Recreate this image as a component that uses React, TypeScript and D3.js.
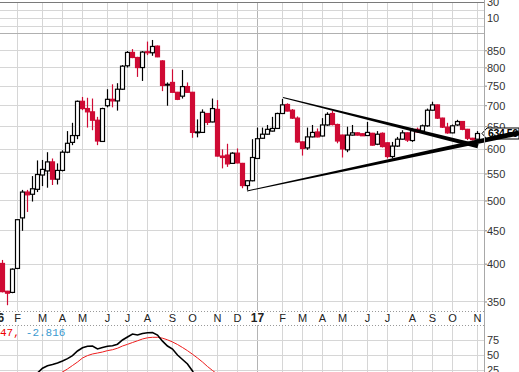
import React from "react";
import * as d3 from "d3";

// weekly candles, first one is the week of 2016-01-11
const baseWeek = new Date(2016, 0, 4);
const firstWeek = new Date(2016, 0, 11);

const opens = [401, 363.5, 362, 394, 471, 516, 512, 521, 548, 556, 574, 540, 557, 594, 615, 630, 711, 693, 685, 665, 617, 700, 716, 712, 742, 806, 845, 830, 801, 847, 844, 864, 820, 755, 760, 734, 724, 749, 734, 638, 637, 681, 661, 691, 586, 588, 571, 592, 571, 528, 537, 581, 624, 633, 640, 646, 681, 703, 689, 670, 616, 603, 627, 638, 629, 654, 681, 655, 631, 599, 631, 636, 634, 630, 635, 611, 635, 614, 585, 607, 622, 636, 619, 644, 640, 652, 689, 702, 670, 649, 636, 654, 662, 644, 624, 622];
const highs = [406, 364, 394, 469, 520, 520, 546, 577, 578, 594, 581, 571, 598, 640, 659, 713, 722, 720, 718, 673, 695, 742, 755, 758, 808, 849, 855, 832, 849, 878, 883, 866, 822, 760, 796, 735, 794, 760, 735, 667, 691, 682, 718, 714, 600, 612, 594, 602, 572, 538, 622, 648, 648, 654, 673, 683, 717, 706, 692, 674, 617, 648, 654, 646, 670, 684, 687, 657, 632, 650, 654, 637, 635, 661, 636, 640, 637, 615, 616, 627, 642, 637, 646, 648, 655, 693, 710, 703, 671, 659, 655, 666, 663, 645, 625, 640];
const lows = [362, 346, 361, 393, 450, 481, 499, 516, 527, 524, 529, 530, 555, 592, 609, 622, 689, 648, 642, 609, 616, 696, 696, 688, 740, 801, 828, 775, 764, 837, 835, 831, 737, 700, 733, 714, 718, 733, 625, 626, 636, 654, 660, 585, 561, 564, 570, 571, 523, 520, 536, 580, 623, 632, 639, 645, 680, 686, 668, 614, 587, 599, 626, 626, 628, 652, 653, 613, 583, 594, 630, 630, 629, 629, 608, 609, 604, 581, 581, 605, 621, 616, 616, 636, 639, 650, 688, 668, 647, 634, 635, 652, 642, 620, 619, 621];
const closes = [363, 361, 393, 468, 516, 511, 522, 549, 559, 574, 540, 557, 594, 613, 630, 711, 693, 685, 665, 618, 693, 716, 712, 742, 805, 845, 830, 801, 846, 844, 863, 832, 752, 753, 734, 716, 749, 734, 637, 637.2, 684, 660, 693, 586, 583, 570, 592, 572, 528, 537, 583, 623, 633, 644, 646, 681, 702, 687, 670, 616, 602, 627, 637, 627, 654, 679, 655, 618, 601, 631, 636, 631, 629.5, 637, 609, 633, 606, 585, 607, 622, 636, 620, 641, 638, 652, 689, 702, 670, 649, 636, 652, 662, 644, 624, 621, 634.56];

// lower panel (slow stochastics), weekly
const fastStart = new Date(2016, 1, 22);
const fastLine = [12, 20, 28, 32, 34, 36.7, 40, 44, 49, 56.7, 62, 64.5, 65, 60, 62.5, 64.5, 65.5, 68, 75, 80, 85, 83.3, 85.8, 87, 87.5, 83.3, 73, 65, 60, 50, 42.5, 35, 23.3, 8];
const slowStart = new Date(2016, 2, 28);
const slowLine = [15, 21.7, 26.7, 32.5, 38.3, 45, 49, 51.7, 53.3, 55, 57.3, 58.8, 61.3, 65, 67.8, 70.8, 73.7, 76.7, 78.7, 79.5, 79.5, 78, 75.3, 71.7, 67.5, 62.5, 57.2, 51.2, 45, 38.3, 30.8, 24.2, 18, 12];

const priceTicks = [350, 400, 450, 500, 550, 600, 650, 700, 750, 800, 850];
const stochTicks = [25, 50, 75];
const topTicks = [10, 30];

// trendlines: [week index, price]
const upperTrend = [[57.1, 720.6], [96.1, 607]];
const lowerTrend = [[49.9, 518], [104.3, 636]];

const RED = "#cf0a34";
const GRID = "#d6d6d6";

const plotRight = 484;
const x = d3.scaleLinear().domain([0.5, 97.3]).range([0, plotRight]);
const y = d3.scaleLog().domain([339, 905]).range([311, 33]);
const yStoch = d3.scaleLinear().domain([0, 100]).range([385, 325]);
const yTop = d3.scaleLinear().domain([0, 30]).range([26.5, 2.5]);

const weekIdx = (d: Date) => d3.timeMonday.count(baseWeek, d);

const months = d3.timeMonth.range(new Date(2016, 0, 1), new Date(2017, 10, 2)).map((m) => {
  const mon = d3.timeMonday.ceil(m);
  const label = m.getMonth() === 0 ? d3.timeFormat("%y")(m) : d3.timeFormat("%b")(m)[0];
  return { idx: weekIdx(mon), label, year: m.getMonth() === 0 };
});

function taper(p1: number[], p2: number[], w1: number, w2: number) {
  const x1 = x(p1[0]), y1 = y(p1[1]), x2 = x(p2[0]), y2 = y(p2[1]);
  const len = Math.hypot(x2 - x1, y2 - y1);
  const nx = -(y2 - y1) / len, ny = (x2 - x1) / len;
  const pts = [
    [x1 + (nx * w1) / 2, y1 + (ny * w1) / 2],
    [x2 + (nx * w2) / 2, y2 + (ny * w2) / 2],
    [x2 - (nx * w2) / 2, y2 - (ny * w2) / 2],
    [x1 - (nx * w1) / 2, y1 - (ny * w1) / 2],
  ];
  return pts.map((p) => p.join(",")).join(" ");
}

export default function App() {
  const candles = opens.map((o, k) => {
    const d = d3.timeMonday.offset(firstWeek, k);
    const c = closes[k];
    const prev = k > 0 ? closes[k - 1] : o;
    return { i: weekIdx(d), o, h: highs[k], l: lows[k], c, up: c >= prev, filled: c < o };
  });

  const stochPath = (start: Date, vals: number[]) =>
    d3.line<number>()
      .x((_, k) => x(weekIdx(start) + k))
      .y((v) => yStoch(v))(vals) || "";

  const last = y(closes[closes.length - 1]);

  return (
    <svg width={519} height={372} style={{ position: "absolute", left: 0, top: 0, background: "#fff" }}
      fontFamily="'Liberation Sans', Arial, sans-serif">
      <defs>
        <clipPath id="main"><rect x={0} y={33} width={plotRight} height={278} /></clipPath>
      </defs>

      {/* vertical month grid */}
      {months.map((m) => (
        <g key={"g" + m.idx} stroke={m.year ? "#b4b4b4" : GRID} shapeRendering="crispEdges">
          <line x1={x(m.idx)} x2={x(m.idx)} y1={3} y2={311} />
          <line x1={x(m.idx)} x2={x(m.idx)} y1={325} y2={372} />
        </g>
      ))}

      {/* top panel */}
      {[0, 10, 20].map((v) => (
        <line key={"t" + v} x1={0} x2={plotRight} y1={yTop(v)} y2={yTop(v)} stroke={GRID} shapeRendering="crispEdges" />
      ))}
      <line x1={0} x2={plotRight} y1={2.5} y2={2.5} stroke="#7a7a7a" shapeRendering="crispEdges" />
      {topTicks.map((v) => (
        <text key={"tt" + v} x={487} y={yTop(v)} dy="0.35em" fontSize={11} fill="#333">{v}</text>
      ))}

      {/* main panel grid */}
      {priceTicks.map((p) => (
        <line key={"h" + p} x1={0} x2={plotRight} y1={y(p)} y2={y(p)} stroke={GRID} shapeRendering="crispEdges" />
      ))}
      <line x1={0} x2={plotRight} y1={33.5} y2={33.5} stroke="#b0b0b0" shapeRendering="crispEdges" />
      {priceTicks.map((p) => (
        <g key={"pl" + p}>
          <line x1={plotRight} x2={plotRight + 3} y1={y(p)} y2={y(p)} stroke="#888" />
          <text x={487} y={y(p)} dy="0.35em" fontSize={11} fill="#333">{p}</text>
        </g>
      ))}

      {/* candles */}
      <g clipPath="url(#main)">
        {candles.map((d) => {
          const cx = x(d.i);
          const col = d.up ? "#000" : RED;
          const top = y(Math.max(d.o, d.c));
          const bot = y(Math.min(d.o, d.c));
          const fill = d.filled ? col : "#fff";
          return (
            <g key={"c" + d.i}>
              <line x1={cx} x2={cx} y1={y(d.h)} y2={y(d.l)} stroke={col} strokeWidth={1.2} />
              <rect x={cx - 2} y={top} width={4} height={Math.max(bot - top, 0.8)} fill={fill} stroke={col} strokeWidth={1.2} />
            </g>
          );
        })}
      </g>

      {/* trendlines */}
      <polygon points={taper(upperTrend[0], upperTrend[1], 1, 4.5)} fill="#000" />

      {/* last price marker */}
      <polygon points={`482,${last} 487,${last - 5.5} 519,${last - 5.5} 519,${last + 5.5} 487,${last + 5.5}`}
        fill="#fff" stroke="#000" strokeWidth={1} />
      <text x={488} y={last} dy="0.36em" fontSize={10.5} fontWeight="bold" letterSpacing={-0.4} fill="#000">634.56</text>
      <polygon points={taper(lowerTrend[0], lowerTrend[1], 1, 5)} fill="#000" />

      {/* right border */}
      <line x1={plotRight + 0.5} x2={plotRight + 0.5} y1={0} y2={372} stroke="#a8a8a8" />

      {/* date axis band */}
      <line x1={0} x2={plotRight} y1={311.5} y2={311.5} stroke="#999" strokeDasharray="1,2" />
      <line x1={0} x2={plotRight} y1={325.5} y2={325.5} stroke="#999" strokeDasharray="1,2" />
      {months.map((m) => (
        <text key={"ml" + m.idx} x={x(m.idx)} y={318} dy="0.35em" textAnchor="middle"
          fontSize={m.year ? 12 : 11} fontWeight={m.year ? "bold" : "normal"} fill="#222">{m.label}</text>
      ))}

      {/* lower panel */}
      {stochTicks.map((v) => (
        <g key={"s" + v}>
          <line x1={0} x2={plotRight} y1={yStoch(v)} y2={yStoch(v)} stroke={GRID} shapeRendering="crispEdges" />
          <text x={487} y={yStoch(v)} dy="0.35em" fontSize={11} fill="#333">{v}</text>
        </g>
      ))}
      <path d={stochPath(slowStart, slowLine)} fill="none" stroke="#ee1c1c" strokeWidth={1} />
      <path d={stochPath(fastStart, fastLine)} fill="none" stroke="#000" strokeWidth={1.6} />
      <text x={0} y={332} dy="0.35em" fontSize={11} fontFamily="'Liberation Mono', monospace">
        <tspan fill="#e00">47,</tspan>
        <tspan fill="#3b9ad0" dx={6}>-2.816</tspan>
      </text>
    </svg>
  );
}
